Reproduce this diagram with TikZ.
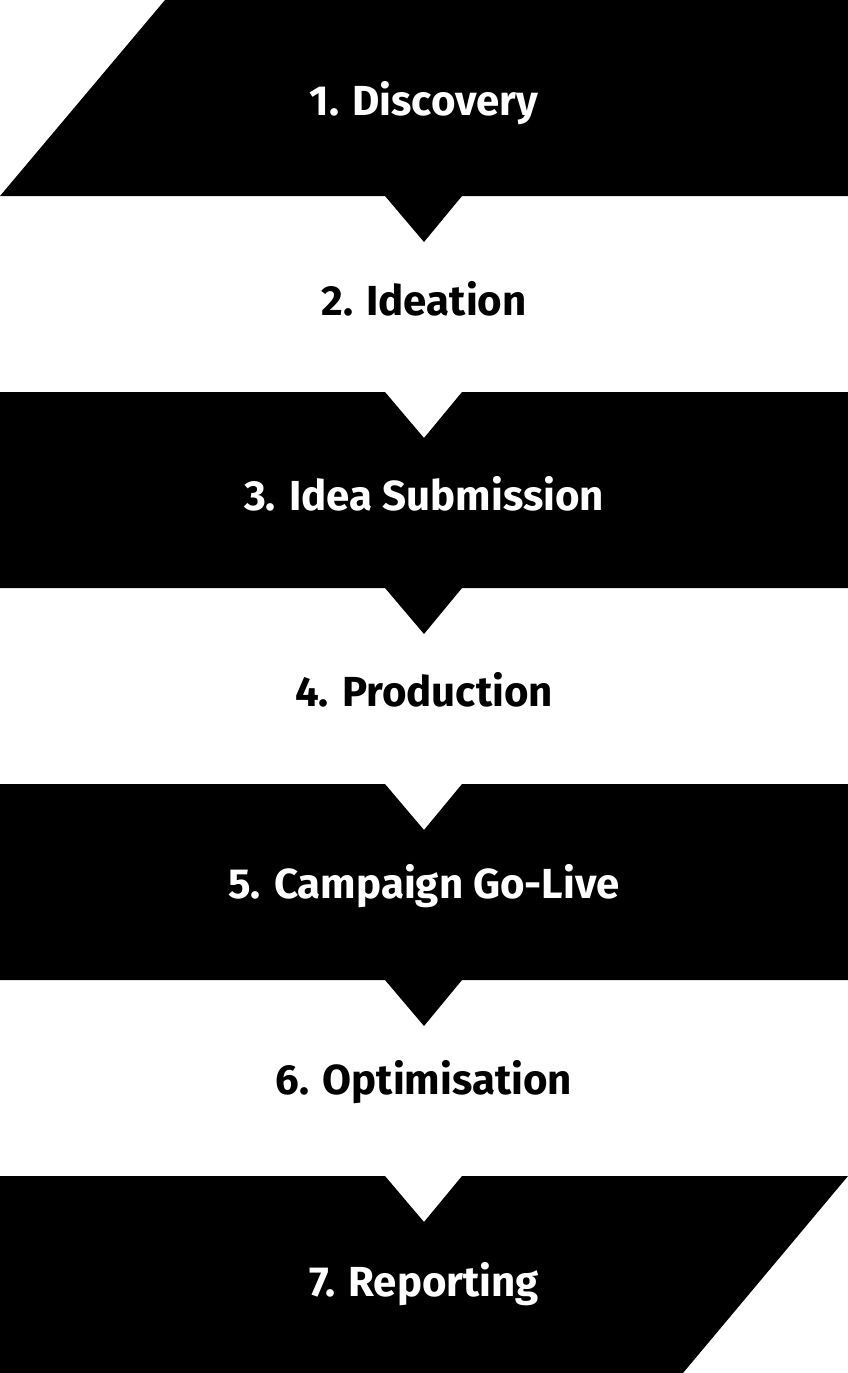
\documentclass[tikz,border=0pt]{standalone}
\usepackage{fontspec}
\setmainfont{Fira Sans}
\usetikzlibrary{positioning}

\begin{document}
\begin{tikzpicture}[x=1pt,y=-1pt]
	\tikzset{band/.style={fill=black,draw=none},
		steplight/.style={text=white,font=\fontsize{42}{42}\selectfont\bfseries},
		stepdark/.style={text=black,font=\fontsize{42}{42}\selectfont\bfseries}}
	\useasboundingbox (0,0) rectangle (848,1373);

	%% black bands with notches
	\fill[band] (165,0) -- (848,0) -- (848,196) -- (462,196) -- (424,242) -- (385,196) -- (0,196) -- cycle;
	\fill[band] (0,392) -- (385,392) -- (424,438) -- (462,392) -- (848,392) -- (848,588)
		-- (462,588) -- (424,634) -- (385,588) -- (0,588) -- cycle;
	\fill[band] (0,784) -- (385,784) -- (424,830) -- (462,784) -- (848,784) -- (848,980)
		-- (462,980) -- (424,1026) -- (385,980) -- (0,980) -- cycle;
	\fill[band] (0,1176) -- (385,1176) -- (424,1222) -- (462,1176) -- (848,1176) -- (683,1373) -- (0,1373) -- cycle;

	%% step labels
	\node[steplight] (s1) at (424,103) {1. Discovery};
	\node[stepdark] (s2) at (424,299) {2. Ideation};
	\node[steplight] (s3) at (424,494) {3. Idea Submission};
	\node[stepdark] (s4) at (424,690) {4. Production};
	\node[steplight] (s5) at (424,886) {5. Campaign Go-Live};
	\node[stepdark] (s6) at (424,1082) {6. Optimisation};
	\node[steplight] (s7) at (424,1284) {7. Reporting};
\end{tikzpicture}
\end{document}
